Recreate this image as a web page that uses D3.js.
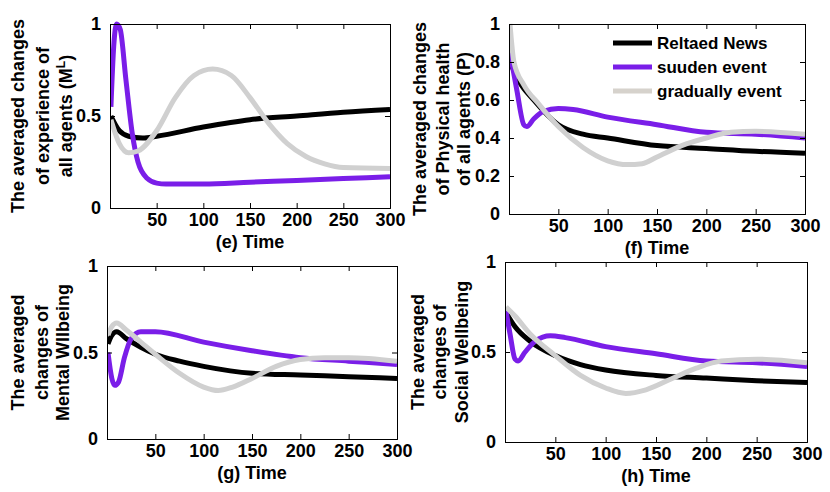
<!DOCTYPE html>
<html><head><meta charset="utf-8">
<script src="https://cdn.jsdelivr.net/npm/d3@7"></script>
<style>body{margin:0;background:#fff}svg{font-family:"Liberation Sans",Arial,sans-serif;font-weight:bold}</style>
</head><body><svg id="c" width="830" height="492"></svg>
<script>
// series names and colours
const seriesNames = ["Reltaed News", "suuden event", "gradually event"];
const seriesColors = ["#000000", "#7a1ee8", "#d0d0d0"];

// panel (e) experience
const eBlack = [[1,0.5],[10,0.42],[20,0.39],[35,0.38],[50,0.39],[100,0.44],[150,0.48],[200,0.5],[250,0.52],[300,0.535]];
const ePurple = [[1,0.55],[4,0.88],[7,1.0],[11,0.97],[17,0.7],[24,0.4],[30,0.25],[40,0.16],[50,0.135],[60,0.13],[100,0.13],[150,0.14],[200,0.15],[250,0.16],[300,0.17]];
const eGray = [[1,0.48],[10,0.35],[20,0.3],[30,0.31],[50,0.42],[70,0.6],[90,0.72],[110,0.755],[130,0.72],[150,0.6],[170,0.46],[190,0.35],[210,0.28],[230,0.24],[250,0.22],[300,0.215]];
// panel (f) physical health
const fBlack = [[1,0.8],[10,0.7],[25,0.6],[50,0.47],[75,0.42],[100,0.4],[150,0.36],[200,0.345],[250,0.33],[300,0.32]];
const fPurple = [[1,0.85],[8,0.65],[15,0.47],[18,0.46],[25,0.5],[35,0.54],[50,0.555],[65,0.55],[100,0.51],[150,0.47],[200,0.43],[250,0.42],[300,0.4]];
const fGray = [[1,1.0],[5,0.8],[15,0.68],[30,0.58],[50,0.46],[75,0.35],[100,0.28],[120,0.26],[135,0.265],[150,0.3],[175,0.36],[200,0.4],[225,0.43],[250,0.435],[300,0.42]];
// panel (g) mental wellbeing
const gBlack = [[1,0.55],[5,0.6],[10,0.62],[20,0.58],[35,0.53],[50,0.49],[75,0.45],[100,0.42],[150,0.38],[200,0.37],[250,0.36],[300,0.35]];
const gPurple = [[1,0.5],[5,0.35],[8,0.31],[12,0.33],[18,0.47],[25,0.58],[35,0.62],[50,0.62],[100,0.56],[150,0.51],[200,0.47],[250,0.45],[300,0.43]];
const gGray = [[1,0.6],[5,0.65],[10,0.67],[20,0.63],[35,0.56],[50,0.49],[75,0.38],[100,0.3],[115,0.28],[130,0.3],[150,0.35],[175,0.42],[200,0.46],[225,0.47],[250,0.47],[300,0.45]];
// panel (h) social wellbeing
const hBlack = [[1,0.72],[10,0.64],[25,0.56],[50,0.48],[75,0.43],[100,0.4],[150,0.37],[200,0.355],[250,0.34],[300,0.33]];
const hPurple = [[1,0.73],[5,0.6],[10,0.46],[13,0.45],[20,0.5],[30,0.56],[45,0.59],[60,0.58],[100,0.53],[150,0.49],[200,0.45],[250,0.44],[300,0.42]];
const hGray = [[1,0.75],[10,0.7],[25,0.6],[50,0.48],[75,0.37],[100,0.3],[120,0.27],[140,0.29],[165,0.35],[190,0.41],[215,0.45],[250,0.46],[300,0.44]];

const xTicks = [50,100,150,200,250,300];
const yTicksHalf = [0,0.5,1];
const yTicksFifth = [0,0.2,0.4,0.6,0.8,1];

const panels = [
  {box:[110,390,24,208], series:[eBlack,ePurple,eGray], yt:yTicksHalf, xl:"(e) Time", lab:["The averaged changes","of experience of","all agents (M^L)"], lx:[18,43,66]},
  {box:[509,805,24,214], series:[fBlack,fPurple,fGray], yt:yTicksFifth, xl:"(f) Time", lab:["The averaged changes","of Physical health","of all agents (P)"], lx:[420,443,464], legend:true},
  {box:[107,397,266,439], series:[gBlack,gPurple,gGray], yt:yTicksHalf, xl:"(g) Time", lab:["The averaged","changes of","Mental Wllbeing"], lx:[18,42,63]},
  {box:[505,807,262,442], series:[hBlack,hPurple,hGray], yt:yTicksHalf, xl:"(h) Time", lab:["The averaged","changes of","Social Wellbeing"], lx:[418,440,462]}
];

const svg = d3.select("#c");

panels.forEach((p, i) => {
  const [l, r, t, b] = p.box;
  const x = d3.scaleLinear().domain([0, 300]).range([l, r]);
  const y = d3.scaleLinear().domain([0, 1]).range([b, t]);
  const g = svg.append("g");
  const clipId = "clip" + i;
  svg.append("clipPath").attr("id", clipId).append("rect").attr("x", l).attr("y", t - 3).attr("width", r - l).attr("height", b - t + 3);

  const line = d3.line().x(d => x(d[0])).y(d => y(d[1])).curve(d3.curveMonotoneX);
  p.series.forEach((s, k) => {
    g.append("path").attr("d", line(s)).attr("fill", "none")
      .attr("stroke", seriesColors[k]).attr("stroke-width", 5)
      .attr("clip-path", `url(#${clipId})`);
  });

  // axes, ticks inward, box
  const fmt = d => String(d);
  g.append("g").attr("transform", `translate(0,${b})`)
    .call(d3.axisBottom(x).tickValues(xTicks).tickSize(-5).tickPadding(5).tickFormat(d3.format("d")));
  g.append("g").attr("transform", `translate(0,${t})`)
    .call(d3.axisTop(x).tickValues(xTicks).tickSize(-5).tickFormat(""));
  g.append("g").attr("transform", `translate(${l},0)`)
    .call(d3.axisLeft(y).tickValues(p.yt).tickSize(-5).tickPadding(9).tickFormat(fmt));
  g.append("g").attr("transform", `translate(${r},0)`)
    .call(d3.axisRight(y).tickValues(p.yt).tickSize(-5).tickFormat(""));
  g.selectAll(".domain").attr("stroke", "#000");
  g.selectAll(".tick line").attr("stroke", "#000");
  g.selectAll(".tick text").attr("font-size", 18).attr("font-weight", "bold")
    .attr("font-family", "Liberation Sans, Arial, sans-serif").attr("fill", "#000");

  g.append("text").attr("x", (l + r) / 2).attr("y", b + 40).attr("text-anchor", "middle")
    .attr("font-size", 18).text(p.xl);

  const cy = (t + b) / 2;
  p.lab.forEach((s, k) => {
    const tx = g.append("text").attr("transform", `translate(${p.lx[k] + 6},${cy}) rotate(-90)`)
      .attr("text-anchor", "middle").attr("font-size", 18);
    const m = s.match(/^(.*)\^(\w+)(\))$/);
    if (m) {
      tx.append("tspan").text(m[1]);
      tx.append("tspan").attr("font-size", 12).attr("dy", -7).text(m[2]);
      tx.append("tspan").attr("dy", 7).text(m[3]);
    } else tx.text(s);
  });

  if (p.legend) {
    const lg = g.append("g");
    seriesNames.forEach((n, k) => {
      const ly = 43 + k * 24;
      lg.append("line").attr("x1", 613).attr("x2", 652).attr("y1", ly).attr("y2", ly)
        .attr("stroke", k === 2 ? "#d6d2cc" : seriesColors[k]).attr("stroke-width", 5);
      lg.append("text").attr("x", 657).attr("y", ly + 6).attr("font-size", 17).text(n);
    });
  }
});
</script></body></html>
